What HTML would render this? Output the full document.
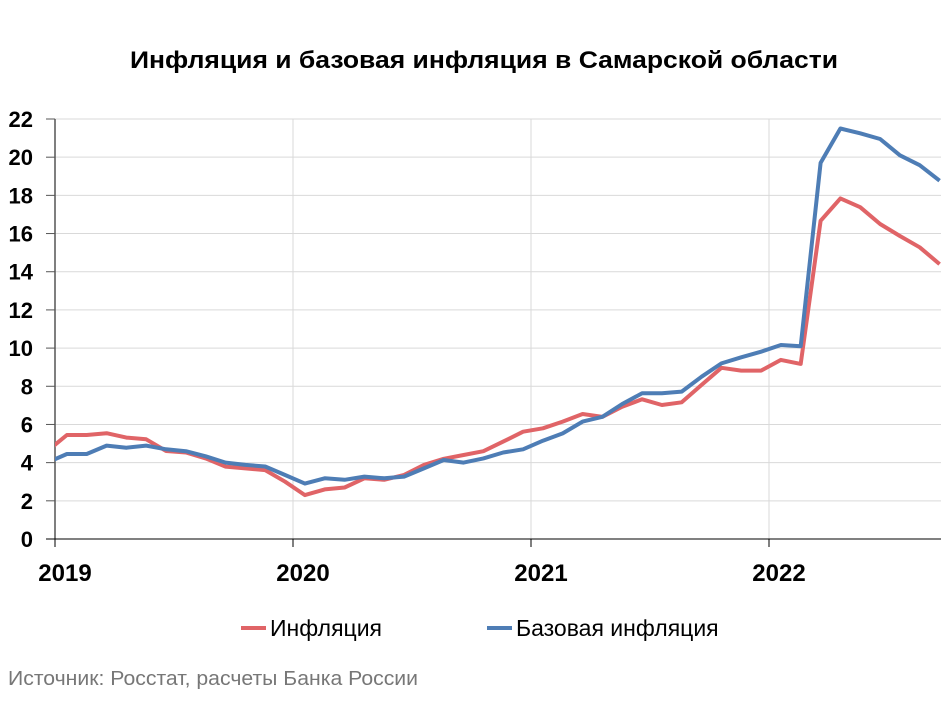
<!DOCTYPE html>
<html><head><meta charset="utf-8"><style>
body{margin:0;background:#fff;width:950px;height:712px;overflow:hidden;font-family:"Liberation Sans",sans-serif}
</style></head><body>
<svg width="950" height="712" xmlns="http://www.w3.org/2000/svg">
<text x="130" y="68" textLength="708" lengthAdjust="spacingAndGlyphs" font-size="24" font-weight="bold" fill="#000">Инфляция и базовая инфляция в Самарской области</text>
<g id="grid"></g>
<g id="axes"></g>
<defs><clipPath id="plotclip"><rect x="55" y="100" width="890" height="450"/></clipPath></defs>
<g id="series" clip-path="url(#plotclip)"></g>
<g>
<g>
<line x1="241" y1="628" x2="266" y2="628" stroke="#e06467" stroke-width="4"/>
<text x="270" y="636" font-size="23" fill="#000">Инфляция</text></g>
<g>
<line x1="487" y1="628" x2="512" y2="628" stroke="#4e7db5" stroke-width="4"/>
<text x="516" y="636" font-size="23" fill="#000">Базовая инфляция</text></g>
</g>
<text x="8" y="685" font-size="20" textLength="410" lengthAdjust="spacingAndGlyphs" fill="#777">Источник: Росстат, расчеты Банка России</text>
</svg>
<script>
// month index: -1 = Dec 2018, 0 = Jan 2019 ... 44 = Sep 2022
const startMonth = -1;
const inflation = [4.6,5.45,5.45,5.54,5.31,5.22,4.61,4.53,4.22,3.79,3.7,3.61,3.0,2.3,2.6,2.7,3.18,3.1,3.36,3.88,4.2,4.4,4.6,5.1,5.62,5.8,6.15,6.55,6.4,6.93,7.32,7.02,7.16,8.07,8.97,8.82,8.82,9.38,9.17,16.67,17.84,17.38,16.5,15.87,15.28,14.4];
const coreInflation = [4.0,4.45,4.45,4.89,4.78,4.89,4.7,4.6,4.33,4.0,3.88,3.8,3.35,2.9,3.18,3.1,3.27,3.18,3.27,3.7,4.14,4.0,4.22,4.53,4.7,5.15,5.53,6.15,6.4,7.07,7.63,7.63,7.72,8.5,9.2,9.52,9.81,10.16,10.1,19.7,21.5,21.25,20.95,20.1,19.58,18.77];
const yTicks = [0,2,4,6,8,10,12,14,16,18,20,22];
const xYears = [2019,2020,2021,2022];

const NS="http://www.w3.org/2000/svg";
const X0=55,X1=941,Y0=539,Y1=119,pxYear=238;
function xScale(monthIdx){return X0+pxYear*(monthIdx+0.6)/12;}
function xYear(y){return X0+pxYear*(y-2019);}
function yScale(v){return Y0-(Y0-Y1)*v/22;}
function mk(tag,attrs,parent){const e=document.createElementNS(NS,tag);for(const k in attrs)e.setAttribute(k,attrs[k]);parent.appendChild(e);return e;}
const grid=document.getElementById('grid'),axes=document.getElementById('axes'),series=document.getElementById('series');
yTicks.forEach(t=>{
  const y=yScale(t);
  if(t>0){const g=mk('line',{x1:X0,x2:X1,y1:y,y2:y,stroke:'#d9d9d9','stroke-width':1},grid);
    
    }
  const tk=mk('line',{x1:46,x2:X0,y1:y,y2:y,stroke:'#555','stroke-width':1},axes);
  
  
  const lb=mk('text',{x:33,y:y+8,'text-anchor':'end','font-size':22,'font-weight':'bold',fill:'#000'},axes);
  lb.textContent=t;
  
  
});
xYears.forEach(yr=>{
  const x=xYear(yr);
  if(yr>2019){const g=mk('line',{x1:x,x2:x,y1:Y1,y2:Y0,stroke:'#d9d9d9','stroke-width':1},grid);
    
    }
  const tk=mk('line',{x1:x,x2:x,y1:Y0,y2:Y0+8,stroke:'#000','stroke-width':1},axes);
  
  
  const lb=mk('text',{x:x+10,y:581,'text-anchor':'middle','font-size':24,'font-weight':'bold',fill:'#000'},axes);
  lb.textContent=yr;
  
  
});
const ya=mk('line',{x1:X0,x2:X0,y1:Y1,y2:Y0+8,stroke:'#555','stroke-width':1.5},axes);


const xa=mk('line',{x1:46,x2:X1,y1:Y0,y2:Y0,stroke:'#000','stroke-width':1},axes);


function line(vals,color,name){
  const pts=vals.map((v,i)=>xScale(startMonth+i).toFixed(1)+','+yScale(v).toFixed(1)).join(' ');
  const p=mk('polyline',{points:pts,fill:'none',stroke:color,'stroke-width':4,'stroke-linejoin':'round'},series);
  
  
}
line(inflation,'#e06467','inflation-line');
line(coreInflation,'#4e7db5','core-inflation-line');
</script>
</body></html>
